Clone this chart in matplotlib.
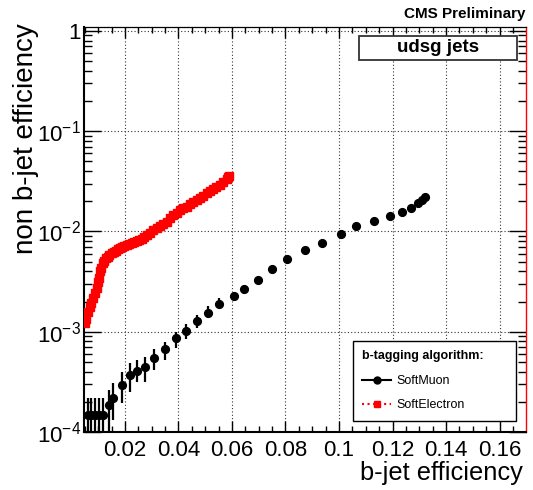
import matplotlib
matplotlib.use('Agg')
import matplotlib.pyplot as plt
import numpy as np
from matplotlib.ticker import FixedLocator, NullFormatter, MultipleLocator
from matplotlib.lines import Line2D
from matplotlib.patches import Rectangle

plt.rcParams['font.family'] = ['Liberation Sans', 'DejaVu Sans']
plt.rcParams['mathtext.fontset'] = 'custom'
plt.rcParams['mathtext.rm'] = 'Liberation Sans'
plt.rcParams['mathtext.it'] = 'Liberation Sans:italic'
plt.rcParams['mathtext.bf'] = 'Liberation Sans:bold'

# ---------------- data ----------------
muon_b_eff = [0.0061, 0.0074, 0.0089, 0.0104, 0.0118, 0.0139, 0.0154, 0.0189, 0.0219,
              0.0244, 0.0275, 0.0310, 0.0350, 0.0390, 0.0428, 0.0468, 0.0511, 0.0553,
              0.0607, 0.0646, 0.0698, 0.0748, 0.0807, 0.0873, 0.0938, 0.1007, 0.1062,
              0.1132, 0.1192, 0.1237, 0.1268, 0.1296, 0.1309, 0.1321]
muon_udsg_eff = [1.47e-4, 1.47e-4, 1.47e-4, 1.47e-4, 1.47e-4, 1.85e-4, 2.2e-4, 2.94e-4,
                 3.69e-4, 4.07e-4, 4.4e-4, 5.5e-4, 6.65e-4, 8.57e-4, 1.02e-3, 1.29e-3,
                 1.55e-3, 1.91e-3, 2.26e-3, 2.66e-3, 3.27e-3, 4.18e-3, 5.33e-3, 6.56e-3,
                 7.69e-3, 9.33e-3, 1.12e-2, 1.28e-2, 1.43e-2, 1.57e-2, 1.73e-2, 1.90e-2,
                 2.05e-2, 2.18e-2]
muon_udsg_hi = [2.16e-4, 2.16e-4, 2.16e-4, 2.16e-4, 2.16e-4, 2.62e-4, 3.05e-4, 3.93e-4,
                4.83e-4, 5.21e-4, 5.62e-4, 6.8e-4, 7.93e-4, 9.98e-4, 1.19e-3, 1.46e-3,
                1.8e-3, 2.16e-3, 2.5e-3, 2.95e-3, 3.55e-3, 4.45e-3, 5.6e-3, 6.85e-3,
                7.95e-3, 9.6e-3, 1.15e-2, 1.31e-2, 1.46e-2, 1.60e-2, 1.76e-2, 1.93e-2,
                2.08e-2, 2.21e-2]
muon_udsg_lo = [5e-5, 5e-5, 5e-5, 5e-5, 5e-5, 9e-5, 1.31e-4, 1.93e-4,
                2.52e-4, 3.17e-4, 3.17e-4, 4.14e-4, 5.21e-4, 6.81e-4, 8.38e-4, 1.09e-3,
                1.36e-3, 1.72e-3, 2.03e-3, 2.4e-3, 3.0e-3, 3.92e-3, 5.05e-3, 6.27e-3,
                7.43e-3, 9.06e-3, 1.09e-2, 1.25e-2, 1.40e-2, 1.54e-2, 1.70e-2, 1.87e-2,
                2.02e-2, 2.15e-2]

ele_b_eff = [0.0050, 0.0055, 0.0062, 0.0068, 0.0074, 0.0080, 0.0087, 0.0094, 0.0100,
             0.0104, 0.0108, 0.0112, 0.0117, 0.0123, 0.0129, 0.0135, 0.0141, 0.0150,
             0.0158, 0.0166, 0.0174, 0.0182, 0.0189, 0.0198, 0.0207, 0.0216, 0.0226,
             0.0235, 0.0245, 0.0254, 0.0264, 0.0273, 0.0282, 0.0294, 0.0306, 0.0318,
             0.0331, 0.0343, 0.0356, 0.0368, 0.0381, 0.0393, 0.0406, 0.0418, 0.0431,
             0.0443, 0.0455, 0.0468, 0.0480, 0.0492, 0.0505, 0.0517, 0.0530, 0.0542,
             0.0555, 0.0567, 0.0580, 0.0586, 0.0590]
ele_udsg_eff = [1.22e-3, 1.35e-3, 1.58e-3, 1.75e-3, 1.94e-3, 2.15e-3, 2.41e-3, 2.70e-3, 3.10e-3,
                3.45e-3, 4.05e-3, 4.35e-3, 4.80e-3, 5.10e-3, 5.38e-3, 5.60e-3, 5.81e-3, 6.05e-3,
                6.27e-3, 6.45e-3, 6.61e-3, 6.78e-3, 6.92e-3, 7.10e-3, 7.30e-3, 7.45e-3, 7.58e-3,
                7.80e-3, 8.00e-3, 8.25e-3, 8.50e-3, 8.85e-3, 9.20e-3, 9.75e-3, 1.03e-2, 1.08e-2,
                1.13e-2, 1.19e-2, 1.25e-2, 1.35e-2, 1.45e-2, 1.54e-2, 1.63e-2, 1.70e-2, 1.76e-2,
                1.86e-2, 1.97e-2, 2.05e-2, 2.13e-2, 2.26e-2, 2.39e-2, 2.51e-2, 2.64e-2, 2.77e-2,
                2.90e-2, 3.10e-2, 3.32e-2, 3.45e-2, 3.60e-2]

x_ticks = [0.02, 0.04, 0.06, 0.08, 0.10, 0.12, 0.14, 0.16]
x_ticklabels = ['0.02', '0.04', '0.06', '0.08', '0.1', '0.12', '0.14', '0.16']
y_ticks = [1e-4, 1e-3, 1e-2, 1e-1, 1]
y_ticklabels = ['$10^{-4}$', '$10^{-3}$', '$10^{-2}$', '$10^{-1}$', '1']
series_labels = ['SoftMuon', 'SoftElectron']

# ---------------- figure ----------------
W, H = 533, 490
fig = plt.figure(figsize=(W / 100, H / 100), dpi=100)
ax = fig.add_axes([84 / W, 1 - 432 / H, (525.5 - 84) / W, (432 - 26.7) / H])

mu = np.array(muon_udsg_eff)
yerr = [mu - np.array(muon_udsg_lo), np.array(muon_udsg_hi) - mu]
ax.errorbar(muon_b_eff, muon_udsg_eff, yerr=yerr, fmt='o', color='black', ms=5.6,
            elinewidth=1.6, capsize=0, zorder=4)
ax.plot(ele_b_eff, ele_udsg_eff, 's', color='red', ms=5.4, mec='red', zorder=3)

ax.set_xlim(0.0047, 0.1697)
ax.set_yscale('log')
ax.set_ylim(1e-4, 1.1)

ax.xaxis.set_major_locator(FixedLocator(x_ticks))
ax.set_xticklabels(x_ticklabels)
ax.xaxis.set_minor_locator(MultipleLocator(0.005))
ax.yaxis.set_major_locator(FixedLocator(y_ticks))
ax.set_yticklabels(y_ticklabels)
minor_y = [m * 10.0 ** e for e in range(-4, 0) for m in range(2, 10)]
ax.yaxis.set_minor_locator(FixedLocator(minor_y))
ax.yaxis.set_minor_formatter(NullFormatter())

ax.tick_params(which='both', direction='in', top=True, right=True, colors='black')
ax.tick_params(axis='x', which='major', length=8, width=1, labelsize=16, pad=6)
ax.tick_params(axis='x', which='minor', length=4, width=1)
ax.tick_params(axis='y', which='major', length=12, width=1, labelsize=16, pad=2)
ax.tick_params(axis='y', which='minor', length=6, width=1)

ax.grid(True, which='major', ls=(0, (1, 2)), color='#333333', lw=0.8)
ax.set_axisbelow(True)

ax.spines['left'].set_linewidth(1.5)
ax.spines['bottom'].set_linewidth(1.5)
ax.spines['top'].set_linewidth(0.9)
ax.spines['right'].set_linewidth(1.0)
ax.spines['right'].set_color('red')

fig.text(523 / W, 1 - 480 / H, 'b-jet efficiency', ha='right', va='baseline', fontsize=18.3)
fig.text(26 / W, 1 - 23 / H, 'non b-jet efficiency', rotation=90, ha='center', va='top',
         fontsize=20)
fig.text(525 / W, 1 - 18 / H, 'CMS Preliminary', ha='right', va='baseline',
         fontsize=11, fontweight='bold')

fig.patches.append(Rectangle((359 / W, 1 - 60 / H), 158 / W, 24 / H, transform=fig.transFigure,
                             facecolor='white', edgecolor='#333333', lw=1.3, zorder=5))
fig.text(438 / W, 1 - 48 / H, 'udsg jets', ha='center', va='center', fontsize=13.5,
         fontweight='bold', zorder=6)

handles = [Line2D([], [], color='black', lw=1.5, marker='o', ms=5),
           Line2D([], [], color='red', lw=1.5, ls=':', marker='s', ms=5)]
leg = ax.legend(handles, series_labels, title='b-tagging algorithm:', loc='upper left',
                bbox_to_anchor=(353 / W, 1 - 416 / H, 163 / W, 75 / H),
                bbox_transform=fig.transFigure, mode='expand', fontsize=9,
                title_fontproperties={'weight': 'bold', 'size': 9},
                frameon=True, fancybox=False, edgecolor='black', framealpha=1,
                borderaxespad=0, handlelength=2.3, handletextpad=0.4,
                labelspacing=1.0, borderpad=0.75, alignment='left')
leg.get_frame().set_linewidth(1.0)
leg.set_zorder(10)

fig.savefig('out.png', dpi=100)
